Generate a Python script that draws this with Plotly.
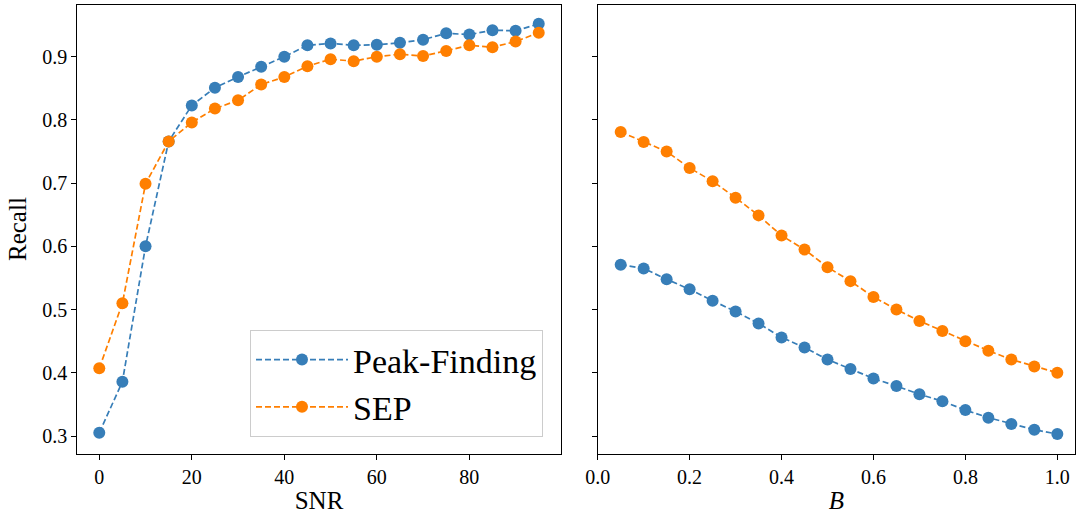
import plotly.graph_objects as go

snr = [0, 5, 10, 15, 20, 25, 30, 35, 40, 45, 50, 55, 60, 65, 70, 75, 80, 85, 90, 95]
snr_peak = [0.305, 0.386, 0.600, 0.766, 0.823, 0.851, 0.868, 0.884, 0.900, 0.918,
            0.921, 0.918, 0.919, 0.922, 0.927, 0.937, 0.935, 0.942, 0.941, 0.952]
snr_sep = [0.407, 0.510, 0.699, 0.766, 0.796, 0.818, 0.831, 0.856, 0.868, 0.885,
           0.896, 0.893, 0.900, 0.904, 0.901, 0.909, 0.918, 0.915, 0.924, 0.938]

b_vals = [0.05, 0.10, 0.15, 0.20, 0.25, 0.30, 0.35, 0.40, 0.45, 0.50,
          0.55, 0.60, 0.65, 0.70, 0.75, 0.80, 0.85, 0.90, 0.95, 1.00]
b_peak = [0.571, 0.565, 0.548, 0.532, 0.514, 0.497, 0.478, 0.456, 0.440, 0.421,
          0.406, 0.391, 0.379, 0.366, 0.355, 0.341, 0.329, 0.319, 0.310, 0.303]
b_sep = [0.781, 0.765, 0.750, 0.724, 0.703, 0.677, 0.649, 0.617, 0.595, 0.567,
         0.545, 0.520, 0.500, 0.482, 0.466, 0.450, 0.435, 0.421, 0.410, 0.400]

series_names = ["Peak-Finding", "SEP"]
colors = ["#377eb8", "#ff7f00"]

y_ticks = [0.3, 0.4, 0.5, 0.6, 0.7, 0.8, 0.9]
snr_ticks = [0, 20, 40, 60, 80]
b_ticks = [0.0, 0.2, 0.4, 0.6, 0.8, 1.0]

W, H = 1076, 516
FONT = "Liberation Serif"

fig = go.Figure()

line_style = dict(width=1.7, dash="6px,3px")
marker_size = 12

fig.add_trace(go.Scatter(x=snr, y=snr_peak, mode="lines+markers", name=series_names[0],
                         line=dict(color=colors[0], **line_style),
                         marker=dict(size=marker_size, color=colors[0]),
                         xaxis="x", yaxis="y"))
fig.add_trace(go.Scatter(x=snr, y=snr_sep, mode="lines+markers", name=series_names[1],
                         line=dict(color=colors[1], **line_style),
                         marker=dict(size=marker_size, color=colors[1]),
                         xaxis="x", yaxis="y"))
fig.add_trace(go.Scatter(x=b_vals, y=b_peak, mode="lines+markers", name=series_names[0],
                         line=dict(color=colors[0], **line_style),
                         marker=dict(size=marker_size, color=colors[0]),
                         xaxis="x2", yaxis="y2", showlegend=False))
fig.add_trace(go.Scatter(x=b_vals, y=b_sep, mode="lines+markers", name=series_names[1],
                         line=dict(color=colors[1], **line_style),
                         marker=dict(size=marker_size, color=colors[1]),
                         xaxis="x2", yaxis="y2", showlegend=False))

ydom = [1 - 453.7 / H, 1 - 4.5 / H]
yrange = [0.272, 0.9826]

axis_common = dict(showline=True, linecolor="black", linewidth=1.2, mirror=True,
                   ticks="outside", ticklen=5, tickwidth=1.2, tickcolor="black",
                   showgrid=False, zeroline=False, automargin=False,
                   tickfont=dict(family=FONT, size=20, color="black"))

title_font = dict(family=FONT, size=25, color="black")

fig.update_layout(
    width=W, height=H,
    margin=dict(l=0, r=0, t=0, b=0),
    paper_bgcolor="white", plot_bgcolor="white",
    font=dict(family=FONT, color="black"),
    xaxis=dict(domain=[77.3 / W, 560.7 / W], range=[-4.75, 99.75],
               tickvals=snr_ticks, anchor="y",
               title=dict(text="SNR", font=title_font, standoff=4),
               **axis_common),
    yaxis=dict(domain=ydom, range=yrange, tickvals=y_ticks, tickformat=".1f",
               anchor="x",
               title=dict(text="Recall", font=title_font, standoff=8),
               **axis_common),
    xaxis2=dict(domain=[597.7 / W, 1075 / W], range=[0, 1.0385],
                tickvals=b_ticks, tickformat=".1f", anchor="y2",
                title=dict(text="<i>B</i>", font=title_font, standoff=4),
                **axis_common),
    yaxis2=dict(domain=ydom, range=yrange, tickvals=y_ticks, showticklabels=False,
                anchor="x2", matches="y", **axis_common),
    legend=dict(x=543 / W, y=1 - 437 / H, xanchor="right", yanchor="bottom",
                bgcolor="rgba(255,255,255,0.8)", bordercolor="#cccccc", borderwidth=1,
                font=dict(family=FONT, size=34, color="black"),
                itemwidth=92, tracegroupgap=4),
)

fig.write_html("out.html", config={"displayModeBar": False},
               post_script="document.body.style.margin='0px';")
